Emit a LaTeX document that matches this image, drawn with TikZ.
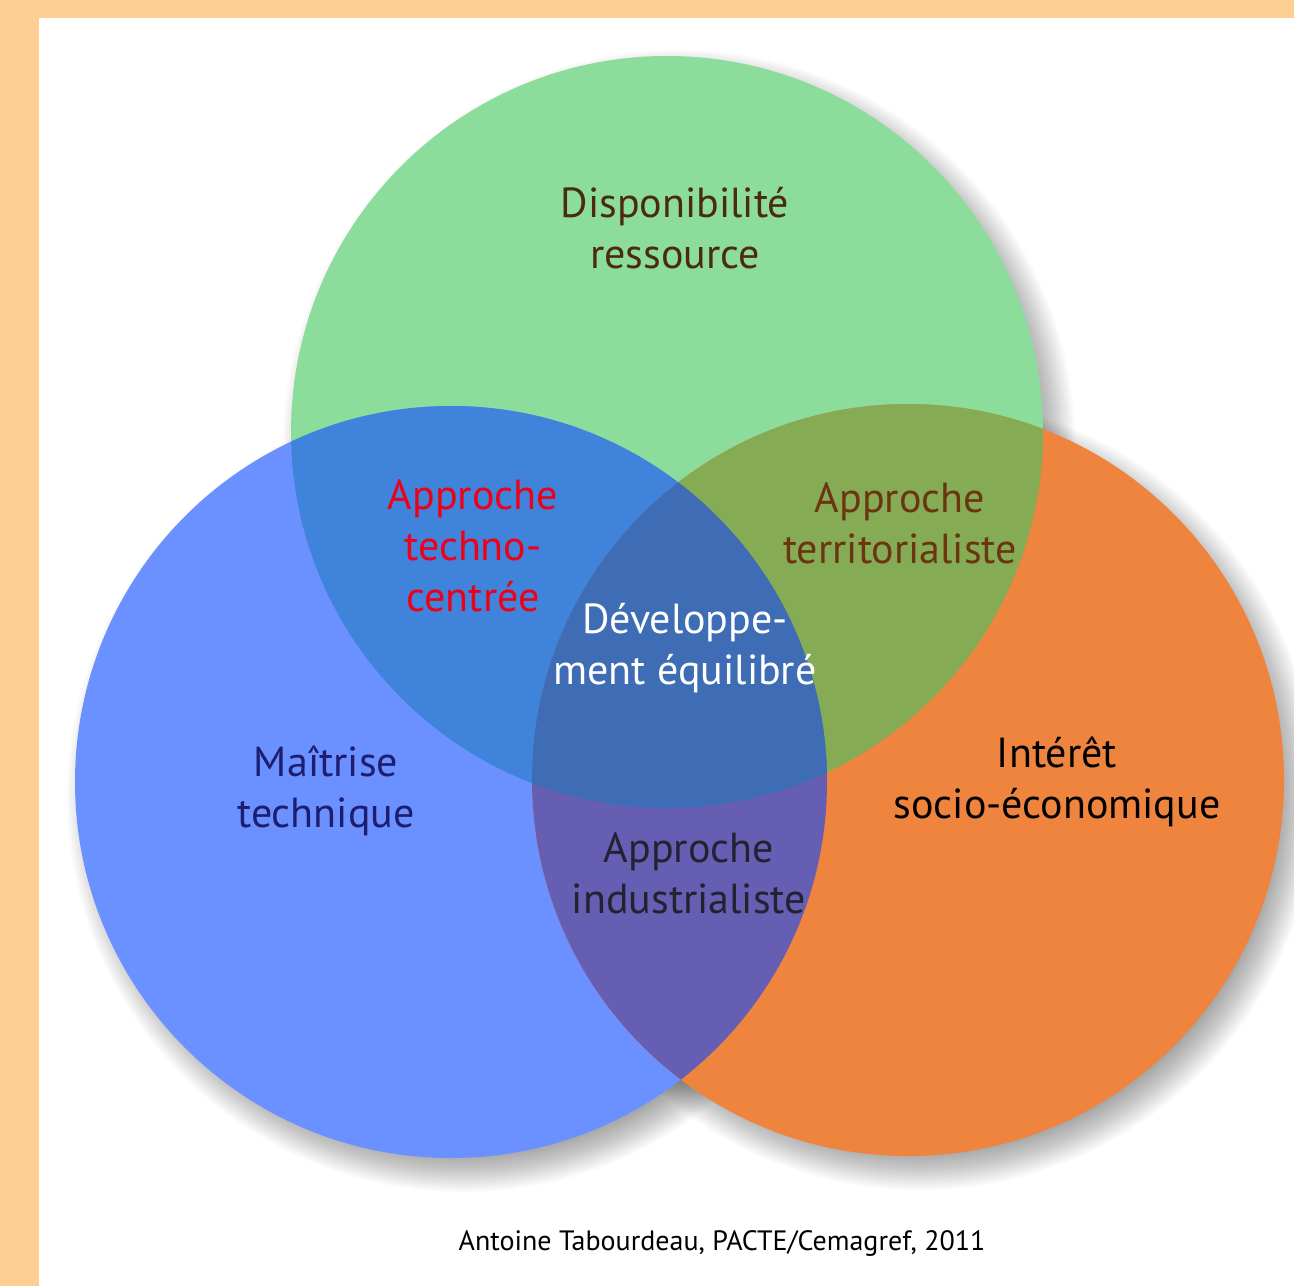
\documentclass[tikz,border=0pt]{standalone}
\usepackage{fontspec}
\setmainfont{PT Sans}
\definecolor{frame}{HTML}{FDCF93}
\definecolor{cgreen}{HTML}{8CDC9C}
\definecolor{cblue}{HTML}{6B90FF}
\definecolor{corange}{HTML}{EE843E}
\definecolor{cgb}{HTML}{3F83DA}
\definecolor{cgo}{HTML}{86AB55}
\definecolor{cbo}{HTML}{665EB2}
\definecolor{cmid}{HTML}{3E6DB6}
\definecolor{tbrown}{HTML}{4A2A12}
\definecolor{tred}{HTML}{F00018}
\definecolor{tterr}{HTML}{6A3510}
\definecolor{tnavy}{HTML}{1E1E70}
\definecolor{tdark}{HTML}{222230}
\tikzset{
  lbl/.style={align=center, font=\fontsize{21}{25.5}\selectfont, inner sep=0pt},
}
\begin{document}
\begin{tikzpicture}[x=0.5pt,y=-0.5pt]
\fill[frame] (0,0) rectangle (1294,1286);
\fill[white] (39,18) rectangle (1294,1286);
\useasboundingbox (0,0) rectangle (1294,1286);
\coordinate (G) at (667,432);
\coordinate (B) at (451,782);
\coordinate (O) at (908,780);
\def\R{376}
% soft shadows
\foreach \c in {G,B,O}{
  \foreach \i in {0,...,19}{
    \fill[black,opacity=0.018] ([shift={(12,14)}]\c) circle ({\R-18+2*\i});
  }
}
% circles
\fill[cgreen] (G) circle (\R);
\fill[cblue] (B) circle (\R);
\fill[corange] (O) circle (\R);
\begin{scope}\clip (G) circle (\R); \fill[cgb] (B) circle (\R); \end{scope}
\begin{scope}\clip (G) circle (\R); \fill[cgo] (O) circle (\R); \end{scope}
\begin{scope}\clip (B) circle (\R); \fill[cbo] (O) circle (\R); \end{scope}
\begin{scope}\clip (G) circle (\R); \clip (B) circle (\R); \fill[cmid] (O) circle (\R); \end{scope}
% labels
\node[lbl,text=tbrown] (dispo) at (675,228) {Disponibilité\\ressource};
\node[lbl,text=tred] (techno) at (473,546) {Approche\\techno-\\centrée};
\node[lbl,text=tterr] (terr) at (900,523) {Approche\\territorialiste};
\node[lbl,text=white] (dev) at (685,648) {Développe-\\ment équilibré};
\node[lbl,text=tnavy] (maitrise) at (326,791) {Maîtrise\\technique};
\node[lbl,text=black] (interet) at (1057,782) {Intérêt\\socio-économique};
\node[lbl,text=tdark] (indus) at (689,873) {Approche\\industrialiste};
\node[inner sep=0pt, font=\fontsize{14}{16}\selectfont] (credit) at (722,1243) {Antoine Tabourdeau, PACTE/Cemagref, 2011};
\end{tikzpicture}
\end{document}
